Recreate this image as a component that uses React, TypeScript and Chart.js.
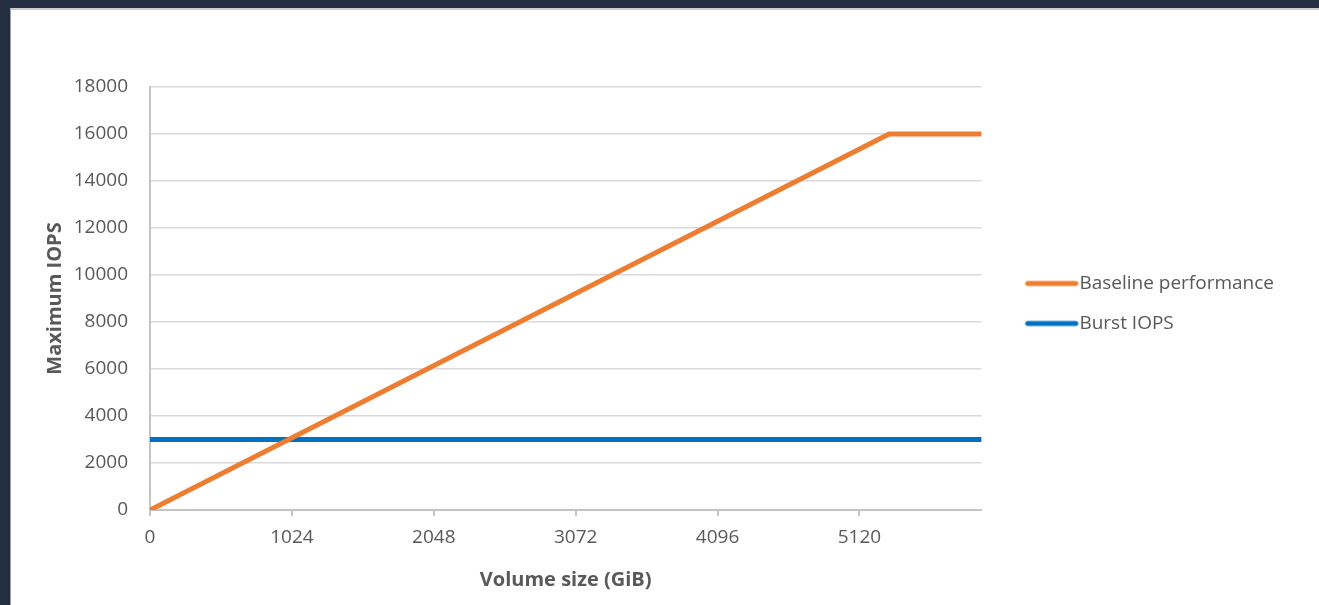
import React, { useEffect, useRef } from "react";
import { Chart, registerables } from "chart.js";

Chart.register(...registerables);

const SERIES_NAMES = ["Baseline performance", "Burst IOPS"];
const BASELINE_X = [0, 5334, 6000];
const BASELINE_Y = [0, 16000, 16000];
const BURST_X = [0, 6000];
const BURST_Y = [3000, 3000];
const X_TICKS = [0, 1024, 2048, 3072, 4096, 5120];
const X_MAX = 6000;
const Y_MAX = 18000;
const Y_STEP = 2000;

const ORANGE = "#ED7D31";
const BLUE = "#0070C0";
const TEXT = "#595959";

function makeLegendLine(color: string): HTMLCanvasElement {
  const c = document.createElement("canvas");
  c.width = 85;
  c.height = 8;
  const ctx = c.getContext("2d")!;
  ctx.strokeStyle = color;
  ctx.lineWidth = 5;
  ctx.lineCap = "round";
  ctx.beginPath();
  ctx.moveTo(34, 4);
  ctx.lineTo(82, 4);
  ctx.stroke();
  return c;
}

export default function App() {
  const ref = useRef<HTMLCanvasElement | null>(null);

  useEffect(() => {
    if (!ref.current) return;
    const icons = [makeLegendLine(ORANGE), makeLegendLine(BLUE)];
    const chart = new Chart(ref.current, {
      type: "line",
      data: {
        datasets: [
          {
            label: SERIES_NAMES[0],
            data: BASELINE_X.map((x, i) => ({ x, y: BASELINE_Y[i] })),
            borderColor: ORANGE,
            backgroundColor: ORANGE,
            borderWidth: 5,
            borderCapStyle: "round",
            borderJoinStyle: "round",
            pointRadius: 0,
            tension: 0,
          },
          {
            label: SERIES_NAMES[1],
            data: BURST_X.map((x, i) => ({ x, y: BURST_Y[i] })),
            borderColor: BLUE,
            backgroundColor: BLUE,
            borderWidth: 5,
            borderCapStyle: "round",
            pointRadius: 0,
            tension: 0,
          },
        ],
      },
      options: {
        responsive: false,
        animation: false,
        maintainAspectRatio: false,
        layout: { padding: { left: 32, top: 77, bottom: 13, right: 35 } },
        font: { family: "'Open Sans', sans-serif" },
        plugins: {
          tooltip: { enabled: false },
          legend: {
            position: "right",
            fullSize: false,
            title: { display: true, text: "", font: { size: 5, lineHeight: 2 }, padding: 0 },
            labels: {
              usePointStyle: true,
              pointStyleWidth: 67.5,
              padding: 21,
              color: TEXT,
              font: { family: "'Open Sans', sans-serif", size: 19 },
              generateLabels: (ch: any) => {
                const items = Chart.defaults.plugins.legend.labels.generateLabels(ch);
                return items.map((it: any, i: number) => ({ ...it, pointStyle: icons[i] }));
              },
            },
          },
        },
        scales: {
          x: {
            type: "linear",
            min: 0,
            max: X_MAX,
            afterBuildTicks: (s: any) => {
              s.ticks = X_TICKS.map((v) => ({ value: v }));
            },
            afterFit: (s: any) => {
              s.height = 82;
            },
            ticks: {
              color: TEXT,
              padding: 10,
              maxRotation: 0,
              autoSkip: false,
              font: { family: "'Open Sans', sans-serif", size: 19 },
              callback: (v: any) => String(v),
            },
            grid: {
              display: true,
              drawOnChartArea: false,
              drawTicks: true,
              tickLength: 6,
              color: "#c4c4c4",
              lineWidth: 2,
            },
            border: { display: true, color: "#c4c4c4", width: 2 },
            title: {
              display: true,
              text: "Volume size (GiB)",
              color: TEXT,
              padding: { top: 0, bottom: 0 },
              font: { family: "'Open Sans', sans-serif", size: 20, weight: "bold", lineHeight: 1.2 },
            },
          },
          y: {
            type: "linear",
            min: 0,
            max: Y_MAX,
            afterFit: (s: any) => {
              s.width = 107;
            },
            ticks: {
              stepSize: Y_STEP,
              color: TEXT,
              padding: 22,
              font: { family: "'Open Sans', sans-serif", size: 19 },
              callback: (v: any) => String(v),
            },
            grid: {
              color: "#d9d9d9",
              lineWidth: 1.5,
              drawTicks: false,
            },
            border: { display: true, color: "#c4c4c4", width: 2 },
            title: {
              display: true,
              text: "Maximum IOPS",
              color: TEXT,
              padding: { top: 0, bottom: 8 },
              font: { family: "'Open Sans', sans-serif", size: 20, weight: "bold", lineHeight: 1.2 },
            },
          },
        },
      } as any,
    });
    return () => chart.destroy();
  }, []);

  return (
    <div style={{ position: "fixed", inset: 0, background: "#232e40" }}>
      <div
        style={{
          position: "absolute",
          left: 10,
          top: 8,
          right: 0,
          bottom: 0,
          background: "#ffffff",
          borderTop: "2px solid #c9ccd1",
          borderLeft: "1px solid #9aa0a8",
          overflow: "hidden",
        }}
      >
        <canvas ref={ref} width={1308} height={595} style={{ display: "block", width: 1308, height: 595 }} />
      </div>
    </div>
  );
}
